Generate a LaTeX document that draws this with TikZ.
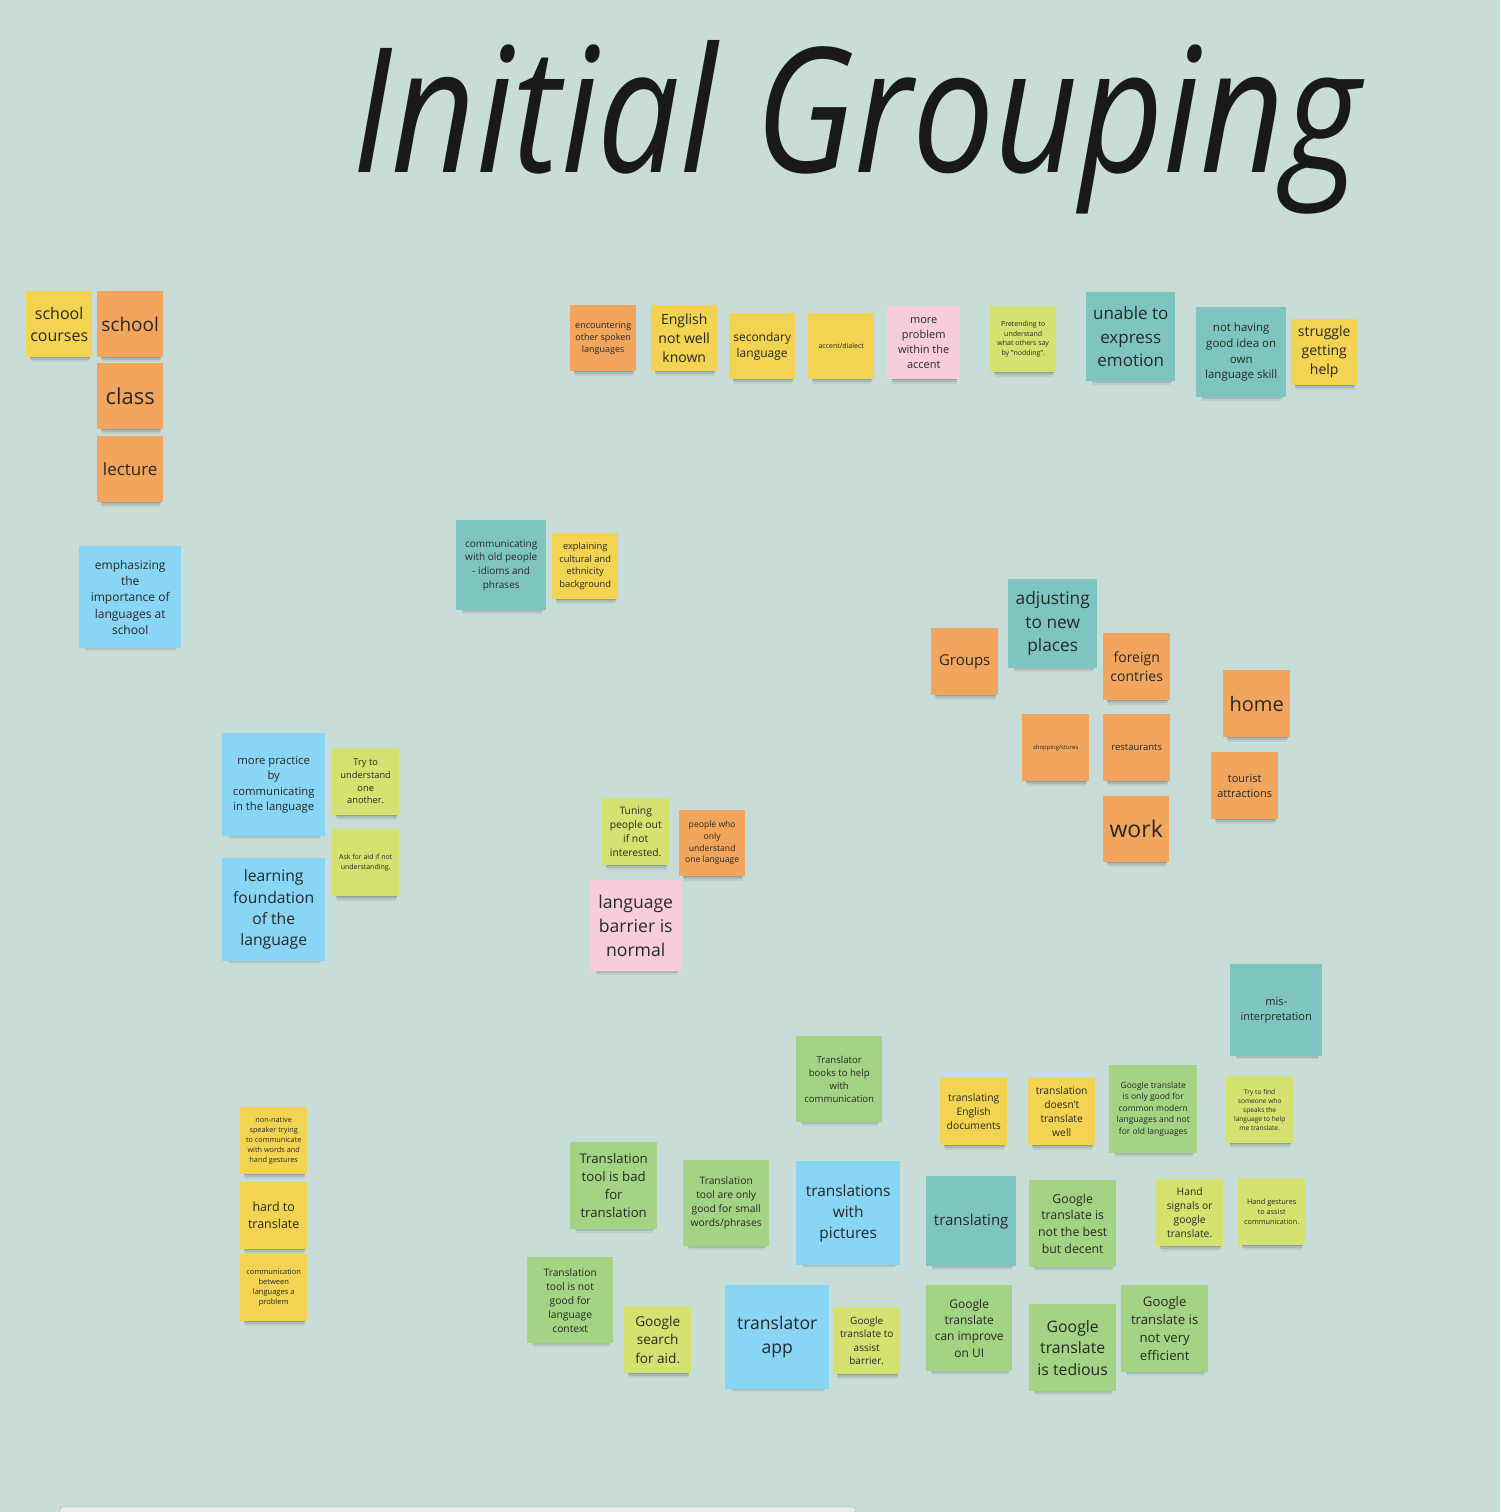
\documentclass[tikz,border=0pt]{standalone}
\usepackage{fontspec}
\setmainfont{Open Sans}
\newfontfamily\titlefont{Open Sans}
\usetikzlibrary{shadows}

\definecolor{board}{RGB}{200,221,215}
\definecolor{ink}{RGB}{40,40,40}
\definecolor{nyellow}{RGB}{242,211,82}
\definecolor{norange}{RGB}{242,165,92}
\definecolor{nteal}{RGB}{126,197,193}
\definecolor{nblue}{RGB}{136,213,245}
\definecolor{npink}{RGB}{247,205,221}
\definecolor{nlime}{RGB}{213,226,112}
\definecolor{ngreen}{RGB}{163,211,131}

\newcommand{\fs}[1]{\fontsize{#1pt}{\fpeval{1.36*#1}pt}\selectfont}

\tikzset{
  note/.style={anchor=north west, align=center, text=ink, inner sep=1pt,
    drop shadow={shadow scale=.9, shadow xshift=1pt, shadow yshift=-5pt, opacity=.14, fill=black},
    drop shadow={shadow scale=.9, shadow xshift=1pt, shadow yshift=-7pt, opacity=.10, fill=black},
    drop shadow={shadow scale=.88, shadow xshift=1pt, shadow yshift=-10pt, opacity=.06, fill=black}},
  sz/.style={minimum width=#1pt, minimum height=#1pt},
  yel/.style={note, fill=nyellow},
  org/.style={note, fill=norange},
  tea/.style={note, fill=nteal},
  blu/.style={note, fill=nblue},
  pnk/.style={note, fill=npink},
  lim/.style={note, fill=nlime},
  grn/.style={note, fill=ngreen}
}

\begin{document}
\begin{tikzpicture}[x=1pt, y=-1pt]
    \fill[board] (0,0) rectangle (1500,1512);
    \useasboundingbox (0,0) rectangle (1500,1512);
    \node[anchor=base west, inner sep=0pt, text=black!90] (title) at (352,172)
      {\resizebox{1008pt}{132pt}{\titlefont\itshape Initial Grouping}};

    \node[yel, sz=66, font=\fs{16}] (courses) at (26,291) {school\\courses};
    \node[org, sz=66, font=\fs{19}] (school) at (97,291) {school};
    \node[org, sz=66, font=\fs{22}] (class) at (97,363) {class};
    \node[org, sz=66, font=\fs{17}] (lecture) at (97,436) {lecture};
    \node[blu, sz=102, font=\fs{12}] (emphasize) at (79,546) {emphasizing\\the\\importance of\\languages at\\school};

    \node[org, sz=66, font=\fs{9}] (encounter) at (570,305) {encountering\\other spoken\\languages};
    \node[yel, sz=66, font=\fs{14}] (english) at (651,305) {English\\not well\\known};
    \node[yel, sz=66, font=\fs{12}] (secondary) at (729,313) {secondary\\language};
    \node[yel, sz=66, font=\fs{7}] (accent) at (808,313) {accent/dialect};
    \node[pnk, sz=73, font=\fs{11}] (problem) at (887,306) {more\\problem\\within the\\accent};
    \node[lim, sz=66, font=\fs{7}] (nodding) at (990,306) {Pretending to\\understand\\what others say\\by "nodding".};
    \node[tea, sz=89, font=\fs{17}] (emotion) at (1086,292) {unable to\\express\\emotion};
    \node[tea, sz=90, font=\fs{11.5}] (skill) at (1196,307) {not having\\good idea on\\own\\language skill};
    \node[yel, sz=66, font=\fs{14}] (help) at (1291,319) {struggle\\getting\\help};

    \node[tea, sz=90, font=\fs{10}] (oldpeople) at (456,520) {communicating\\with old people\\- idioms and\\phrases};
    \node[yel, sz=66, font=\fs{9.3}] (culture) at (552,533) {explaining\\cultural and\\ethnicity\\background};

    \node[blu, sz=103, font=\fs{11.3}] (practice) at (222,733) {more practice\\by\\communicating\\in the language};
    \node[lim, sz=67, font=\fs{9.3}] (another) at (332,748) {Try to\\understand\\one\\another.};
    \node[lim, sz=67, font=\fs{7}] (askaid) at (332,829) {Ask for aid if not\\understanding.};
    \node[blu, sz=103, font=\fs{15.7}] (foundation) at (222,858) {learning\\foundation\\of the\\language};

    \node[lim, sz=67, font=\fs{10.3}] (tuning) at (602,798) {Tuning\\people out\\if not\\interested.};
    \node[org, sz=66, font=\fs{8.6}] (onelang) at (679,810) {people who\\only\\understand\\one language};
    \node[pnk, sz=91, font=\fs{17.6}] (barrier) at (590,880) {language\\barrier is\\normal};

    \node[org, sz=67, font=\fs{15}] (groups) at (931,628) {Groups};
    \node[tea, sz=89, font=\fs{17.3}] (places) at (1008,579) {adjusting\\to new\\places};
    \node[org, sz=67, font=\fs{14}] (foreign) at (1103,633) {foreign\\contries};
    \node[org, sz=67, font=\fs{6}] (shopping) at (1022,714) {shopping/stores};
    \node[org, sz=67, font=\fs{9.5}] (restaurants) at (1103,714) {restaurants};
    \node[org, sz=66, font=\fs{23}] (work) at (1103,796) {work};
    \node[org, sz=67, font=\fs{20}] (home) at (1223,670) {home};
    \node[org, sz=67, font=\fs{11}] (tourist) at (1211,752) {tourist\\attractions};

    \node[yel, sz=67, font=\fs{7.3}] (nonnative) at (240,1107) {non-native\\speaker trying\\to communicate\\with words and\\hand gestures};
    \node[yel, sz=67, font=\fs{12.5}] (hard) at (240,1182) {hard to\\translate};
    \node[yel, sz=67, font=\fs{7.5}] (between) at (240,1254) {communication\\between\\languages a\\problem};

    \node[grn, sz=86, font=\fs{9.6}] (books) at (796,1036) {Translator\\books to help\\with\\communication};
    \node[grn, sz=87, font=\fs{13.2}] (toolbad) at (570,1142) {Translation\\tool is bad\\for\\translation};
    \node[grn, sz=86, font=\fs{10.3}] (toolsmall) at (683,1160) {Translation\\tool are only\\good for small\\words/phrases};
    \node[blu, sz=104, font=\fs{15.4}] (pictures) at (796,1161) {translations\\with\\pictures};
    \node[grn, sz=86, font=\fs{10.3}] (context) at (527,1257) {Translation\\tool is not\\good for\\language\\context};
    \node[lim, sz=67, font=\fs{13.6}] (search) at (624,1306) {Google\\search\\for aid.};
    \node[blu, sz=104, font=\fs{17.6}] (app) at (725,1285) {translator\\app};
    \node[lim, sz=67, font=\fs{10}] (assist) at (833,1307) {Google\\translate to\\assist\\barrier.};

    \node[tea, sz=92, font=\fs{11}] (misinterp) at (1230,964) {mis-\\interpretation};
    \node[yel, sz=67, font=\fs{10.3}] (documents) at (940,1078) {translating\\English\\documents};
    \node[yel, sz=67, font=\fs{10.3}] (notwell) at (1028,1078) {translation\\doesn't\\translate\\well};
    \node[grn, sz=88, font=\fs{8.5}] (modern) at (1109,1065) {Google translate\\is only good for\\common modern\\languages and not\\for old languages};
    \node[lim, sz=67, font=\fs{6.6}] (findsome) at (1226,1076) {Try to find\\someone who\\speaks the\\language to help\\me translate.};
    \node[tea, sz=90, font=\fs{15}] (translating) at (926,1176) {translating};
    \node[grn, sz=87, font=\fs{12.3}] (decent) at (1029,1180) {Google\\translate is\\not the best\\but decent};
    \node[lim, sz=67, font=\fs{10.3}] (signals) at (1156,1179) {Hand\\signals or\\google\\translate.};
    \node[lim, sz=67, font=\fs{7.3}] (gestures) at (1238,1178) {Hand gestures\\to assist\\communication.};
    \node[grn, sz=86, font=\fs{12}] (improve) at (926,1285) {Google\\translate\\can improve\\on UI};
    \node[grn, sz=87, font=\fs{15.8}] (tedious) at (1029,1304) {Google\\translate\\is tedious};
    \node[grn, sz=87, font=\fs{13.2}] (efficient) at (1121,1285) {Google\\translate is\\not very\\efficient};

    \draw[gray!75, fill=white!85!gray, rounded corners=2pt] (60,1507) rectangle (855,1516);
\end{tikzpicture}
\end{document}
